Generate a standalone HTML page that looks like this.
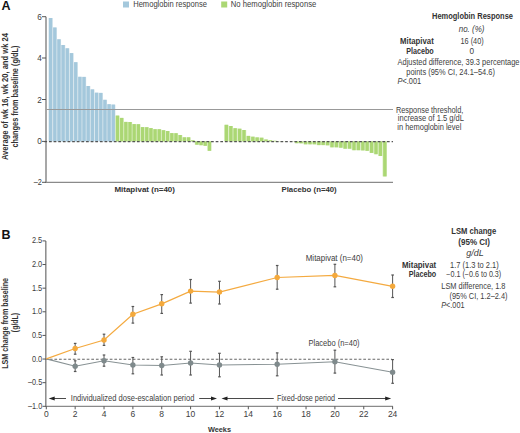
<!DOCTYPE html>
<html><head><meta charset="utf-8"><style>
html,body{margin:0;padding:0;background:#fff;width:520px;height:433px;overflow:hidden}
svg{display:block;font-family:"Liberation Sans", sans-serif}
</style></head><body>
<svg width="520" height="433" viewBox="0 0 520 433">
<rect width="520" height="433" fill="#fff"/>
<text x="1.5" y="9.8" font-size="12.5" font-weight="bold" font-style="normal" text-anchor="start" fill="#111" >A</text>
<rect x="123" y="1.5" width="6" height="6" fill="#a4c8dc"/>
<text x="133.2" y="6.9" font-size="8.2" font-weight="normal" font-style="normal" text-anchor="start" fill="#404040" textLength="73.7" lengthAdjust="spacingAndGlyphs" >Hemoglobin response</text>
<rect x="221.2" y="1.5" width="6" height="6" fill="#abd774"/>
<text x="230.8" y="6.9" font-size="8.2" font-weight="normal" font-style="normal" text-anchor="start" fill="#404040" textLength="85.5" lengthAdjust="spacingAndGlyphs" >No hemoglobin response</text>
<rect x="48.50" y="18.00" width="4.2" height="123.40" fill="#cfe1ea"/>
<rect x="49.00" y="18.00" width="3.2" height="123.40" fill="#a4c8dc"/>
<rect x="52.68" y="27.50" width="4.2" height="113.90" fill="#cfe1ea"/>
<rect x="53.18" y="27.50" width="3.2" height="113.90" fill="#a4c8dc"/>
<rect x="56.86" y="39.30" width="4.2" height="102.10" fill="#cfe1ea"/>
<rect x="57.36" y="39.30" width="3.2" height="102.10" fill="#a4c8dc"/>
<rect x="61.04" y="45.00" width="4.2" height="96.40" fill="#cfe1ea"/>
<rect x="61.54" y="45.00" width="3.2" height="96.40" fill="#a4c8dc"/>
<rect x="65.22" y="48.30" width="4.2" height="93.10" fill="#cfe1ea"/>
<rect x="65.72" y="48.30" width="3.2" height="93.10" fill="#a4c8dc"/>
<rect x="69.40" y="53.10" width="4.2" height="88.30" fill="#cfe1ea"/>
<rect x="69.90" y="53.10" width="3.2" height="88.30" fill="#a4c8dc"/>
<rect x="73.58" y="62.20" width="4.2" height="79.20" fill="#cfe1ea"/>
<rect x="74.08" y="62.20" width="3.2" height="79.20" fill="#a4c8dc"/>
<rect x="77.76" y="76.80" width="4.2" height="64.60" fill="#cfe1ea"/>
<rect x="78.26" y="76.80" width="3.2" height="64.60" fill="#a4c8dc"/>
<rect x="81.94" y="76.90" width="4.2" height="64.50" fill="#cfe1ea"/>
<rect x="82.44" y="76.90" width="3.2" height="64.50" fill="#a4c8dc"/>
<rect x="86.12" y="86.00" width="4.2" height="55.40" fill="#cfe1ea"/>
<rect x="86.62" y="86.00" width="3.2" height="55.40" fill="#a4c8dc"/>
<rect x="90.30" y="89.40" width="4.2" height="52.00" fill="#cfe1ea"/>
<rect x="90.80" y="89.40" width="3.2" height="52.00" fill="#a4c8dc"/>
<rect x="94.48" y="92.70" width="4.2" height="48.70" fill="#cfe1ea"/>
<rect x="94.98" y="92.70" width="3.2" height="48.70" fill="#a4c8dc"/>
<rect x="98.66" y="92.90" width="4.2" height="48.50" fill="#cfe1ea"/>
<rect x="99.16" y="92.90" width="3.2" height="48.50" fill="#a4c8dc"/>
<rect x="102.84" y="99.80" width="4.2" height="41.60" fill="#cfe1ea"/>
<rect x="103.34" y="99.80" width="3.2" height="41.60" fill="#a4c8dc"/>
<rect x="107.02" y="104.20" width="4.2" height="37.20" fill="#cfe1ea"/>
<rect x="107.52" y="104.20" width="3.2" height="37.20" fill="#a4c8dc"/>
<rect x="111.20" y="104.60" width="4.2" height="36.80" fill="#cfe1ea"/>
<rect x="111.70" y="104.60" width="3.2" height="36.80" fill="#a4c8dc"/>
<rect x="115.38" y="115.60" width="4.2" height="25.80" fill="#d3eab5"/>
<rect x="115.88" y="115.60" width="3.2" height="25.80" fill="#abd774"/>
<rect x="119.56" y="117.90" width="4.2" height="23.50" fill="#d3eab5"/>
<rect x="120.06" y="117.90" width="3.2" height="23.50" fill="#abd774"/>
<rect x="123.74" y="121.90" width="4.2" height="19.50" fill="#d3eab5"/>
<rect x="124.24" y="121.90" width="3.2" height="19.50" fill="#abd774"/>
<rect x="127.92" y="122.00" width="4.2" height="19.40" fill="#d3eab5"/>
<rect x="128.42" y="122.00" width="3.2" height="19.40" fill="#abd774"/>
<rect x="132.10" y="124.10" width="4.2" height="17.30" fill="#d3eab5"/>
<rect x="132.60" y="124.10" width="3.2" height="17.30" fill="#abd774"/>
<rect x="136.28" y="124.20" width="4.2" height="17.20" fill="#d3eab5"/>
<rect x="136.78" y="124.20" width="3.2" height="17.20" fill="#abd774"/>
<rect x="140.46" y="127.10" width="4.2" height="14.30" fill="#d3eab5"/>
<rect x="140.96" y="127.10" width="3.2" height="14.30" fill="#abd774"/>
<rect x="144.64" y="127.20" width="4.2" height="14.20" fill="#d3eab5"/>
<rect x="145.14" y="127.20" width="3.2" height="14.20" fill="#abd774"/>
<rect x="148.82" y="128.10" width="4.2" height="13.30" fill="#d3eab5"/>
<rect x="149.32" y="128.10" width="3.2" height="13.30" fill="#abd774"/>
<rect x="153.00" y="129.20" width="4.2" height="12.20" fill="#d3eab5"/>
<rect x="153.50" y="129.20" width="3.2" height="12.20" fill="#abd774"/>
<rect x="157.18" y="129.20" width="4.2" height="12.20" fill="#d3eab5"/>
<rect x="157.68" y="129.20" width="3.2" height="12.20" fill="#abd774"/>
<rect x="161.36" y="130.20" width="4.2" height="11.20" fill="#d3eab5"/>
<rect x="161.86" y="130.20" width="3.2" height="11.20" fill="#abd774"/>
<rect x="165.54" y="131.00" width="4.2" height="10.40" fill="#d3eab5"/>
<rect x="166.04" y="131.00" width="3.2" height="10.40" fill="#abd774"/>
<rect x="169.72" y="133.10" width="4.2" height="8.30" fill="#d3eab5"/>
<rect x="170.22" y="133.10" width="3.2" height="8.30" fill="#abd774"/>
<rect x="173.90" y="133.20" width="4.2" height="8.20" fill="#d3eab5"/>
<rect x="174.40" y="133.20" width="3.2" height="8.20" fill="#abd774"/>
<rect x="178.08" y="135.00" width="4.2" height="6.40" fill="#d3eab5"/>
<rect x="178.58" y="135.00" width="3.2" height="6.40" fill="#abd774"/>
<rect x="182.26" y="137.30" width="4.2" height="4.10" fill="#d3eab5"/>
<rect x="182.76" y="137.30" width="3.2" height="4.10" fill="#abd774"/>
<rect x="186.44" y="137.30" width="4.2" height="4.10" fill="#d3eab5"/>
<rect x="186.94" y="137.30" width="3.2" height="4.10" fill="#abd774"/>
<rect x="190.62" y="140.30" width="4.2" height="1.10" fill="#d3eab5"/>
<rect x="191.12" y="140.30" width="3.2" height="1.10" fill="#abd774"/>
<rect x="194.80" y="141.40" width="4.2" height="3.30" fill="#d3eab5"/>
<rect x="195.30" y="141.40" width="3.2" height="3.30" fill="#abd774"/>
<rect x="198.98" y="141.40" width="4.2" height="3.80" fill="#d3eab5"/>
<rect x="199.48" y="141.40" width="3.2" height="3.80" fill="#abd774"/>
<rect x="203.16" y="141.40" width="4.2" height="4.40" fill="#d3eab5"/>
<rect x="203.66" y="141.40" width="3.2" height="4.40" fill="#abd774"/>
<rect x="207.34" y="141.40" width="4.2" height="9.40" fill="#d3eab5"/>
<rect x="207.84" y="141.40" width="3.2" height="9.40" fill="#abd774"/>
<rect x="224.20" y="124.80" width="4.4" height="16.60" fill="#d3eab5"/>
<rect x="224.80" y="124.80" width="3.2" height="16.60" fill="#abd774"/>
<rect x="228.60" y="126.00" width="4.4" height="15.40" fill="#d3eab5"/>
<rect x="229.20" y="126.00" width="3.2" height="15.40" fill="#abd774"/>
<rect x="233.00" y="128.20" width="4.4" height="13.20" fill="#d3eab5"/>
<rect x="233.60" y="128.20" width="3.2" height="13.20" fill="#abd774"/>
<rect x="237.40" y="128.70" width="4.4" height="12.70" fill="#d3eab5"/>
<rect x="238.00" y="128.70" width="3.2" height="12.70" fill="#abd774"/>
<rect x="241.80" y="130.00" width="4.4" height="11.40" fill="#d3eab5"/>
<rect x="242.40" y="130.00" width="3.2" height="11.40" fill="#abd774"/>
<rect x="246.20" y="135.90" width="4.4" height="5.50" fill="#d3eab5"/>
<rect x="246.80" y="135.90" width="3.2" height="5.50" fill="#abd774"/>
<rect x="250.60" y="136.70" width="4.4" height="4.70" fill="#d3eab5"/>
<rect x="251.20" y="136.70" width="3.2" height="4.70" fill="#abd774"/>
<rect x="255.00" y="137.40" width="4.4" height="4.00" fill="#d3eab5"/>
<rect x="255.60" y="137.40" width="3.2" height="4.00" fill="#abd774"/>
<rect x="259.40" y="137.70" width="4.4" height="3.70" fill="#d3eab5"/>
<rect x="260.00" y="137.70" width="3.2" height="3.70" fill="#abd774"/>
<rect x="263.80" y="139.50" width="4.4" height="1.90" fill="#d3eab5"/>
<rect x="264.40" y="139.50" width="3.2" height="1.90" fill="#abd774"/>
<rect x="268.20" y="140.30" width="4.4" height="1.10" fill="#d3eab5"/>
<rect x="268.80" y="140.30" width="3.2" height="1.10" fill="#abd774"/>
<rect x="272.60" y="140.80" width="4.4" height="0.60" fill="#d3eab5"/>
<rect x="273.20" y="140.80" width="3.2" height="0.60" fill="#abd774"/>
<rect x="277.00" y="141.20" width="4.4" height="0.20" fill="#d3eab5"/>
<rect x="277.60" y="141.20" width="3.2" height="0.20" fill="#abd774"/>
<rect x="281.40" y="141.30" width="4.4" height="0.10" fill="#d3eab5"/>
<rect x="282.00" y="141.30" width="3.2" height="0.10" fill="#abd774"/>
<rect x="285.80" y="141.40" width="4.4" height="0.00" fill="#d3eab5"/>
<rect x="286.40" y="141.40" width="3.2" height="0.00" fill="#abd774"/>
<rect x="290.20" y="141.40" width="4.4" height="0.20" fill="#d3eab5"/>
<rect x="290.80" y="141.40" width="3.2" height="0.20" fill="#abd774"/>
<rect x="294.60" y="141.40" width="4.4" height="1.80" fill="#d3eab5"/>
<rect x="295.20" y="141.40" width="3.2" height="1.80" fill="#abd774"/>
<rect x="299.00" y="141.40" width="4.4" height="1.90" fill="#d3eab5"/>
<rect x="299.60" y="141.40" width="3.2" height="1.90" fill="#abd774"/>
<rect x="303.40" y="141.40" width="4.4" height="2.90" fill="#d3eab5"/>
<rect x="304.00" y="141.40" width="3.2" height="2.90" fill="#abd774"/>
<rect x="307.80" y="141.40" width="4.4" height="2.90" fill="#d3eab5"/>
<rect x="308.40" y="141.40" width="3.2" height="2.90" fill="#abd774"/>
<rect x="312.20" y="141.40" width="4.4" height="2.90" fill="#d3eab5"/>
<rect x="312.80" y="141.40" width="3.2" height="2.90" fill="#abd774"/>
<rect x="316.60" y="141.40" width="4.4" height="3.70" fill="#d3eab5"/>
<rect x="317.20" y="141.40" width="3.2" height="3.70" fill="#abd774"/>
<rect x="321.00" y="141.40" width="4.4" height="3.70" fill="#d3eab5"/>
<rect x="321.60" y="141.40" width="3.2" height="3.70" fill="#abd774"/>
<rect x="325.40" y="141.40" width="4.4" height="3.90" fill="#d3eab5"/>
<rect x="326.00" y="141.40" width="3.2" height="3.90" fill="#abd774"/>
<rect x="329.80" y="141.40" width="4.4" height="5.90" fill="#d3eab5"/>
<rect x="330.40" y="141.40" width="3.2" height="5.90" fill="#abd774"/>
<rect x="334.20" y="141.40" width="4.4" height="5.90" fill="#d3eab5"/>
<rect x="334.80" y="141.40" width="3.2" height="5.90" fill="#abd774"/>
<rect x="338.60" y="141.40" width="4.4" height="6.30" fill="#d3eab5"/>
<rect x="339.20" y="141.40" width="3.2" height="6.30" fill="#abd774"/>
<rect x="343.00" y="141.40" width="4.4" height="7.30" fill="#d3eab5"/>
<rect x="343.60" y="141.40" width="3.2" height="7.30" fill="#abd774"/>
<rect x="347.40" y="141.40" width="4.4" height="7.30" fill="#d3eab5"/>
<rect x="348.00" y="141.40" width="3.2" height="7.30" fill="#abd774"/>
<rect x="351.80" y="141.40" width="4.4" height="8.80" fill="#d3eab5"/>
<rect x="352.40" y="141.40" width="3.2" height="8.80" fill="#abd774"/>
<rect x="356.20" y="141.40" width="4.4" height="8.80" fill="#d3eab5"/>
<rect x="356.80" y="141.40" width="3.2" height="8.80" fill="#abd774"/>
<rect x="360.60" y="141.40" width="4.4" height="9.00" fill="#d3eab5"/>
<rect x="361.20" y="141.40" width="3.2" height="9.00" fill="#abd774"/>
<rect x="365.00" y="141.40" width="4.4" height="9.40" fill="#d3eab5"/>
<rect x="365.60" y="141.40" width="3.2" height="9.40" fill="#abd774"/>
<rect x="369.40" y="141.40" width="4.4" height="11.50" fill="#d3eab5"/>
<rect x="370.00" y="141.40" width="3.2" height="11.50" fill="#abd774"/>
<rect x="373.80" y="141.40" width="4.4" height="12.80" fill="#d3eab5"/>
<rect x="374.40" y="141.40" width="3.2" height="12.80" fill="#abd774"/>
<rect x="378.20" y="141.40" width="4.4" height="14.60" fill="#d3eab5"/>
<rect x="378.80" y="141.40" width="3.2" height="14.60" fill="#abd774"/>
<rect x="382.60" y="141.40" width="4.4" height="35.00" fill="#d3eab5"/>
<rect x="383.20" y="141.40" width="3.2" height="35.00" fill="#abd774"/>
<line x1="46" y1="16.7" x2="46" y2="182.3" stroke="#8a8a8a" stroke-width="1.5" />
<line x1="45.2" y1="182.3" x2="393" y2="182.3" stroke="#8a8a8a" stroke-width="1.2" />
<line x1="42" y1="16.7" x2="46" y2="16.7" stroke="#555" stroke-width="1" />
<text x="41.9" y="19.7" font-size="8.2" font-weight="normal" font-style="normal" text-anchor="end" fill="#404040" >6</text>
<line x1="42" y1="58.0" x2="46" y2="58.0" stroke="#555" stroke-width="1" />
<text x="41.9" y="61.0" font-size="8.2" font-weight="normal" font-style="normal" text-anchor="end" fill="#404040" >4</text>
<line x1="42" y1="99.5" x2="46" y2="99.5" stroke="#555" stroke-width="1" />
<text x="41.9" y="102.5" font-size="8.2" font-weight="normal" font-style="normal" text-anchor="end" fill="#404040" >2</text>
<line x1="42" y1="141.4" x2="46" y2="141.4" stroke="#555" stroke-width="1" />
<text x="41.9" y="144.4" font-size="8.2" font-weight="normal" font-style="normal" text-anchor="end" fill="#404040" >0</text>
<line x1="42" y1="182.3" x2="46" y2="182.3" stroke="#555" stroke-width="1" />
<text x="41.9" y="185.3" font-size="8.2" font-weight="normal" font-style="normal" text-anchor="end" fill="#404040" textLength="8.2" lengthAdjust="spacingAndGlyphs" >–2</text>
<line x1="46.5" y1="109.5" x2="393" y2="109.5" stroke="#999" stroke-width="1" />
<line x1="44.37" y1="141.6" x2="393" y2="141.6" stroke="#555" stroke-width="1.1" stroke-dasharray="2.7 1.93"/>
<g transform="translate(8.1,96.6) rotate(-90)">
<text x="0" y="0" font-size="8.7" font-weight="bold" font-style="normal" text-anchor="middle" fill="#333" textLength="127" lengthAdjust="spacingAndGlyphs" >Average of wk 16, wk 20, and wk 24</text>
<text x="0" y="9.7" font-size="8.7" font-weight="bold" font-style="normal" text-anchor="middle" fill="#333" textLength="101.9" lengthAdjust="spacingAndGlyphs" >changes from baseline (g/dL)</text>
</g>
<text x="114.4" y="192.3" font-size="8.1" font-weight="bold" font-style="normal" text-anchor="start" fill="#333" textLength="60.6" lengthAdjust="spacingAndGlyphs" >Mitapivat (n=40)</text>
<text x="281.5" y="192.4" font-size="8.1" font-weight="bold" font-style="normal" text-anchor="start" fill="#333" textLength="55.2" lengthAdjust="spacingAndGlyphs" >Placebo (n=40)</text>
<text x="432" y="19.3" font-size="8.2" font-weight="bold" font-style="normal" text-anchor="start" fill="#333" textLength="81" lengthAdjust="spacingAndGlyphs" >Hemoglobin Response</text>
<text x="458.75" y="32" font-size="8.2" font-weight="normal" font-style="italic" text-anchor="start" fill="#404040" textLength="25.7" lengthAdjust="spacingAndGlyphs" >no. (%)</text>
<text x="433.75" y="43.75" font-size="8.2" font-weight="bold" font-style="normal" text-anchor="end" fill="#333" textLength="33.75" lengthAdjust="spacingAndGlyphs" >Mitapivat</text>
<text x="460.5" y="43.75" font-size="8.2" font-weight="normal" font-style="normal" text-anchor="start" fill="#404040" textLength="23.2" lengthAdjust="spacingAndGlyphs" >16 (40)</text>
<text x="433.75" y="53.75" font-size="8.2" font-weight="bold" font-style="normal" text-anchor="end" fill="#333" textLength="27.5" lengthAdjust="spacingAndGlyphs" >Placebo</text>
<text x="469.5" y="53.75" font-size="8.2" font-weight="normal" font-style="normal" text-anchor="start" fill="#404040" >0</text>
<text x="397.5" y="65" font-size="8.2" font-weight="normal" font-style="normal" text-anchor="start" fill="#404040" textLength="122" lengthAdjust="spacingAndGlyphs" >Adjusted difference, 39.3 percentage</text>
<text x="406.25" y="75" font-size="8.2" font-weight="normal" font-style="normal" text-anchor="start" fill="#404040" textLength="88.7" lengthAdjust="spacingAndGlyphs" >points (95% CI, 24.1–54.6)</text>
<text x="397.5" y="83.75" font-size="8.2" font-weight="normal" font-style="normal" text-anchor="start" fill="#404040" textLength="23.7" lengthAdjust="spacingAndGlyphs" ><tspan font-style="italic">P</tspan>&lt;.001</text>
<text x="395.9" y="112.5" font-size="8.2" font-weight="normal" font-style="normal" text-anchor="start" fill="#404040" textLength="67.5" lengthAdjust="spacingAndGlyphs" >Response threshold,</text>
<text x="397.8" y="121.1" font-size="8.2" font-weight="normal" font-style="normal" text-anchor="start" fill="#404040" textLength="66.1" lengthAdjust="spacingAndGlyphs" >increase of 1.5 g/dL</text>
<text x="397.3" y="129.8" font-size="8.2" font-weight="normal" font-style="normal" text-anchor="start" fill="#404040" textLength="64" lengthAdjust="spacingAndGlyphs" >in hemoglobin level</text>
<text x="1.5" y="239.2" font-size="12.5" font-weight="bold" font-style="normal" text-anchor="start" fill="#111" >B</text>
<line x1="45.8" y1="240.9" x2="45.8" y2="406.3" stroke="#8a8a8a" stroke-width="1.5" />
<line x1="45.0" y1="406.3" x2="392.9" y2="406.3" stroke="#8a8a8a" stroke-width="1.2" />
<line x1="42.5" y1="240.9" x2="45.8" y2="240.9" stroke="#555" stroke-width="1" />
<text x="42.2" y="243.4" font-size="8.2" font-weight="normal" font-style="normal" text-anchor="end" fill="#404040" textLength="10.3" lengthAdjust="spacingAndGlyphs" >2.5</text>
<line x1="42.5" y1="264.5285714285714" x2="45.8" y2="264.5285714285714" stroke="#555" stroke-width="1" />
<text x="42.2" y="267.0285714285714" font-size="8.2" font-weight="normal" font-style="normal" text-anchor="end" fill="#404040" textLength="10.3" lengthAdjust="spacingAndGlyphs" >2.0</text>
<line x1="42.5" y1="288.15714285714284" x2="45.8" y2="288.15714285714284" stroke="#555" stroke-width="1" />
<text x="42.2" y="290.65714285714284" font-size="8.2" font-weight="normal" font-style="normal" text-anchor="end" fill="#404040" textLength="10.3" lengthAdjust="spacingAndGlyphs" >1.5</text>
<line x1="42.5" y1="311.7857142857143" x2="45.8" y2="311.7857142857143" stroke="#555" stroke-width="1" />
<text x="42.2" y="314.2857142857143" font-size="8.2" font-weight="normal" font-style="normal" text-anchor="end" fill="#404040" textLength="10.3" lengthAdjust="spacingAndGlyphs" >1.0</text>
<line x1="42.5" y1="335.4142857142857" x2="45.8" y2="335.4142857142857" stroke="#555" stroke-width="1" />
<text x="42.2" y="337.9142857142857" font-size="8.2" font-weight="normal" font-style="normal" text-anchor="end" fill="#404040" textLength="10.3" lengthAdjust="spacingAndGlyphs" >0.5</text>
<line x1="42.5" y1="359.04285714285714" x2="45.8" y2="359.04285714285714" stroke="#555" stroke-width="1" />
<text x="42.2" y="361.54285714285714" font-size="8.2" font-weight="normal" font-style="normal" text-anchor="end" fill="#404040" textLength="10.3" lengthAdjust="spacingAndGlyphs" >0.0</text>
<line x1="42.5" y1="382.6714285714286" x2="45.8" y2="382.6714285714286" stroke="#555" stroke-width="1" />
<text x="42.2" y="385.1714285714286" font-size="8.2" font-weight="normal" font-style="normal" text-anchor="end" fill="#404040" textLength="14.2" lengthAdjust="spacingAndGlyphs" >–0.5</text>
<line x1="42.5" y1="406.3" x2="45.8" y2="406.3" stroke="#555" stroke-width="1" />
<text x="42.2" y="408.8" font-size="8.2" font-weight="normal" font-style="normal" text-anchor="end" fill="#404040" textLength="14.2" lengthAdjust="spacingAndGlyphs" >–1.0</text>
<line x1="46.3" y1="406.3" x2="46.3" y2="409.3" stroke="#555" stroke-width="1" />
<text x="46.3" y="417.2" font-size="8.5" font-weight="normal" font-style="normal" text-anchor="middle" fill="#404040" >0</text>
<line x1="75.16" y1="406.3" x2="75.16" y2="409.3" stroke="#555" stroke-width="1" />
<text x="75.16" y="417.2" font-size="8.5" font-weight="normal" font-style="normal" text-anchor="middle" fill="#404040" >2</text>
<line x1="104.02" y1="406.3" x2="104.02" y2="409.3" stroke="#555" stroke-width="1" />
<text x="104.02" y="417.2" font-size="8.5" font-weight="normal" font-style="normal" text-anchor="middle" fill="#404040" >4</text>
<line x1="132.88" y1="406.3" x2="132.88" y2="409.3" stroke="#555" stroke-width="1" />
<text x="132.88" y="417.2" font-size="8.5" font-weight="normal" font-style="normal" text-anchor="middle" fill="#404040" >6</text>
<line x1="161.74" y1="406.3" x2="161.74" y2="409.3" stroke="#555" stroke-width="1" />
<text x="161.74" y="417.2" font-size="8.5" font-weight="normal" font-style="normal" text-anchor="middle" fill="#404040" >8</text>
<line x1="190.60000000000002" y1="406.3" x2="190.60000000000002" y2="409.3" stroke="#555" stroke-width="1" />
<text x="190.60000000000002" y="417.2" font-size="8.5" font-weight="normal" font-style="normal" text-anchor="middle" fill="#404040" >10</text>
<line x1="219.45999999999998" y1="406.3" x2="219.45999999999998" y2="409.3" stroke="#555" stroke-width="1" />
<text x="219.45999999999998" y="417.2" font-size="8.5" font-weight="normal" font-style="normal" text-anchor="middle" fill="#404040" >12</text>
<line x1="248.32" y1="406.3" x2="248.32" y2="409.3" stroke="#555" stroke-width="1" />
<text x="248.32" y="417.2" font-size="8.5" font-weight="normal" font-style="normal" text-anchor="middle" fill="#404040" >14</text>
<line x1="277.18" y1="406.3" x2="277.18" y2="409.3" stroke="#555" stroke-width="1" />
<text x="277.18" y="417.2" font-size="8.5" font-weight="normal" font-style="normal" text-anchor="middle" fill="#404040" >16</text>
<line x1="306.04" y1="406.3" x2="306.04" y2="409.3" stroke="#555" stroke-width="1" />
<text x="306.04" y="417.2" font-size="8.5" font-weight="normal" font-style="normal" text-anchor="middle" fill="#404040" >18</text>
<line x1="334.90000000000003" y1="406.3" x2="334.90000000000003" y2="409.3" stroke="#555" stroke-width="1" />
<text x="334.90000000000003" y="417.2" font-size="8.5" font-weight="normal" font-style="normal" text-anchor="middle" fill="#404040" >20</text>
<line x1="363.76" y1="406.3" x2="363.76" y2="409.3" stroke="#555" stroke-width="1" />
<text x="363.76" y="417.2" font-size="8.5" font-weight="normal" font-style="normal" text-anchor="middle" fill="#404040" >22</text>
<line x1="392.62" y1="406.3" x2="392.62" y2="409.3" stroke="#555" stroke-width="1" />
<text x="392.62" y="417.2" font-size="8.5" font-weight="normal" font-style="normal" text-anchor="middle" fill="#404040" >24</text>
<text x="207.9" y="431.5" font-size="8.1" font-weight="bold" font-style="normal" text-anchor="start" fill="#333" textLength="23.1" lengthAdjust="spacingAndGlyphs" >Weeks</text>
<line x1="45.2" y1="359.2" x2="392" y2="359.2" stroke="#666" stroke-width="1.1" stroke-dasharray="2.7 1.91"/>
<polyline points="46.30,358.9 75.16,366.2 104.02,360.8 132.88,365.0 161.74,365.5 190.60,363.0 219.46,365.0 277.18,364.2 334.90,361.8 392.62,372.3" fill="none" stroke="#889294" stroke-width="1.15"/>
<polyline points="46.30,358.9 75.16,348.5 104.02,340.0 132.88,314.2 161.74,303.8 190.60,291.1 219.46,292.0 277.18,277.5 334.90,275.5 392.62,286.3" fill="none" stroke="#f4aa40" stroke-width="1.25"/>
<line x1="75.16" y1="360.8" x2="75.16" y2="371.5" stroke="#555" stroke-width="1" />
<line x1="73.86" y1="360.8" x2="76.46" y2="360.8" stroke="#555" stroke-width="1.2" />
<line x1="73.86" y1="371.5" x2="76.46" y2="371.5" stroke="#555" stroke-width="1.2" />
<circle cx="75.16" cy="366.2" r="2.7" fill="#7f8a8c"/>
<line x1="104.02" y1="355.0" x2="104.02" y2="366.2" stroke="#555" stroke-width="1" />
<line x1="102.72" y1="355.0" x2="105.32" y2="355.0" stroke="#555" stroke-width="1.2" />
<line x1="102.72" y1="366.2" x2="105.32" y2="366.2" stroke="#555" stroke-width="1.2" />
<circle cx="104.02" cy="360.8" r="2.7" fill="#7f8a8c"/>
<line x1="132.88" y1="357.5" x2="132.88" y2="373.8" stroke="#555" stroke-width="1" />
<line x1="131.57999999999998" y1="357.5" x2="134.18" y2="357.5" stroke="#555" stroke-width="1.2" />
<line x1="131.57999999999998" y1="373.8" x2="134.18" y2="373.8" stroke="#555" stroke-width="1.2" />
<circle cx="132.88" cy="365.0" r="2.7" fill="#7f8a8c"/>
<line x1="161.74" y1="356.8" x2="161.74" y2="375.0" stroke="#555" stroke-width="1" />
<line x1="160.44" y1="356.8" x2="163.04000000000002" y2="356.8" stroke="#555" stroke-width="1.2" />
<line x1="160.44" y1="375.0" x2="163.04000000000002" y2="375.0" stroke="#555" stroke-width="1.2" />
<circle cx="161.74" cy="365.5" r="2.7" fill="#7f8a8c"/>
<line x1="190.60000000000002" y1="351.3" x2="190.60000000000002" y2="375.0" stroke="#555" stroke-width="1" />
<line x1="189.3" y1="351.3" x2="191.90000000000003" y2="351.3" stroke="#555" stroke-width="1.2" />
<line x1="189.3" y1="375.0" x2="191.90000000000003" y2="375.0" stroke="#555" stroke-width="1.2" />
<circle cx="190.60" cy="363.0" r="2.7" fill="#7f8a8c"/>
<line x1="219.45999999999998" y1="353.3" x2="219.45999999999998" y2="376.8" stroke="#555" stroke-width="1" />
<line x1="218.15999999999997" y1="353.3" x2="220.76" y2="353.3" stroke="#555" stroke-width="1.2" />
<line x1="218.15999999999997" y1="376.8" x2="220.76" y2="376.8" stroke="#555" stroke-width="1.2" />
<circle cx="219.46" cy="365.0" r="2.7" fill="#7f8a8c"/>
<line x1="277.18" y1="352.9" x2="277.18" y2="375.8" stroke="#555" stroke-width="1" />
<line x1="275.88" y1="352.9" x2="278.48" y2="352.9" stroke="#555" stroke-width="1.2" />
<line x1="275.88" y1="375.8" x2="278.48" y2="375.8" stroke="#555" stroke-width="1.2" />
<circle cx="277.18" cy="364.2" r="2.7" fill="#7f8a8c"/>
<line x1="334.90000000000003" y1="350.2" x2="334.90000000000003" y2="373.1" stroke="#555" stroke-width="1" />
<line x1="333.6" y1="350.2" x2="336.20000000000005" y2="350.2" stroke="#555" stroke-width="1.2" />
<line x1="333.6" y1="373.1" x2="336.20000000000005" y2="373.1" stroke="#555" stroke-width="1.2" />
<circle cx="334.90" cy="361.8" r="2.7" fill="#7f8a8c"/>
<line x1="392.62" y1="359.6" x2="392.62" y2="383.3" stroke="#555" stroke-width="1" />
<line x1="391.32" y1="359.6" x2="393.92" y2="359.6" stroke="#555" stroke-width="1.2" />
<line x1="391.32" y1="383.3" x2="393.92" y2="383.3" stroke="#555" stroke-width="1.2" />
<circle cx="392.62" cy="372.3" r="2.7" fill="#7f8a8c"/>
<line x1="75.16" y1="343.4" x2="75.16" y2="354.2" stroke="#555" stroke-width="1" />
<line x1="73.86" y1="343.4" x2="76.46" y2="343.4" stroke="#555" stroke-width="1.2" />
<line x1="73.86" y1="354.2" x2="76.46" y2="354.2" stroke="#555" stroke-width="1.2" />
<circle cx="75.16" cy="348.5" r="2.7" fill="#f4a93c"/>
<line x1="104.02" y1="334.2" x2="104.02" y2="345.4" stroke="#555" stroke-width="1" />
<line x1="102.72" y1="334.2" x2="105.32" y2="334.2" stroke="#555" stroke-width="1.2" />
<line x1="102.72" y1="345.4" x2="105.32" y2="345.4" stroke="#555" stroke-width="1.2" />
<circle cx="104.02" cy="340.0" r="2.7" fill="#f4a93c"/>
<line x1="132.88" y1="306.5" x2="132.88" y2="323.1" stroke="#555" stroke-width="1" />
<line x1="131.57999999999998" y1="306.5" x2="134.18" y2="306.5" stroke="#555" stroke-width="1.2" />
<line x1="131.57999999999998" y1="323.1" x2="134.18" y2="323.1" stroke="#555" stroke-width="1.2" />
<circle cx="132.88" cy="314.2" r="2.7" fill="#f4a93c"/>
<line x1="161.74" y1="294.6" x2="161.74" y2="313.4" stroke="#555" stroke-width="1" />
<line x1="160.44" y1="294.6" x2="163.04000000000002" y2="294.6" stroke="#555" stroke-width="1.2" />
<line x1="160.44" y1="313.4" x2="163.04000000000002" y2="313.4" stroke="#555" stroke-width="1.2" />
<circle cx="161.74" cy="303.8" r="2.7" fill="#f4a93c"/>
<line x1="190.60000000000002" y1="279.5" x2="190.60000000000002" y2="303.1" stroke="#555" stroke-width="1" />
<line x1="189.3" y1="279.5" x2="191.90000000000003" y2="279.5" stroke="#555" stroke-width="1.2" />
<line x1="189.3" y1="303.1" x2="191.90000000000003" y2="303.1" stroke="#555" stroke-width="1.2" />
<circle cx="190.60" cy="291.1" r="2.7" fill="#f4a93c"/>
<line x1="219.45999999999998" y1="281.3" x2="219.45999999999998" y2="304.0" stroke="#555" stroke-width="1" />
<line x1="218.15999999999997" y1="281.3" x2="220.76" y2="281.3" stroke="#555" stroke-width="1.2" />
<line x1="218.15999999999997" y1="304.0" x2="220.76" y2="304.0" stroke="#555" stroke-width="1.2" />
<circle cx="219.46" cy="292.0" r="2.7" fill="#f4a93c"/>
<line x1="277.18" y1="265.5" x2="277.18" y2="289.2" stroke="#555" stroke-width="1" />
<line x1="275.88" y1="265.5" x2="278.48" y2="265.5" stroke="#555" stroke-width="1.2" />
<line x1="275.88" y1="289.2" x2="278.48" y2="289.2" stroke="#555" stroke-width="1.2" />
<circle cx="277.18" cy="277.5" r="2.7" fill="#f4a93c"/>
<line x1="334.90000000000003" y1="264.3" x2="334.90000000000003" y2="286.8" stroke="#555" stroke-width="1" />
<line x1="333.6" y1="264.3" x2="336.20000000000005" y2="264.3" stroke="#555" stroke-width="1.2" />
<line x1="333.6" y1="286.8" x2="336.20000000000005" y2="286.8" stroke="#555" stroke-width="1.2" />
<circle cx="334.90" cy="275.5" r="2.7" fill="#f4a93c"/>
<line x1="392.62" y1="275.0" x2="392.62" y2="297.5" stroke="#555" stroke-width="1" />
<line x1="391.32" y1="275.0" x2="393.92" y2="275.0" stroke="#555" stroke-width="1.2" />
<line x1="391.32" y1="297.5" x2="393.92" y2="297.5" stroke="#555" stroke-width="1.2" />
<circle cx="392.62" cy="286.3" r="2.7" fill="#f4a93c"/>
<text x="305.75" y="260.75" font-size="8.2" font-weight="normal" font-style="normal" text-anchor="start" fill="#404040" textLength="57.2" lengthAdjust="spacingAndGlyphs" >Mitapivat (n=40)</text>
<text x="308.5" y="346.2" font-size="8.2" font-weight="normal" font-style="normal" text-anchor="start" fill="#404040" textLength="51.1" lengthAdjust="spacingAndGlyphs" >Placebo (n=40)</text>
<line x1="52.7" y1="398.5" x2="66" y2="398.5" stroke="#4a4a4a" stroke-width="1" />
<polygon points="48.7,398.5 54.7,396.6 54.7,400.4" fill="#222"/>
<text x="70.8" y="400.8" font-size="8.2" font-weight="normal" font-style="normal" text-anchor="start" fill="#404040" textLength="123.6" lengthAdjust="spacingAndGlyphs" >Individualized dose-escalation period</text>
<line x1="199.2" y1="398.5" x2="213.0" y2="398.5" stroke="#4a4a4a" stroke-width="1" />
<polygon points="217.0,398.5 211.0,396.6 211.0,400.4" fill="#222"/>
<line x1="225.5" y1="398.5" x2="273.75" y2="398.5" stroke="#4a4a4a" stroke-width="1" />
<polygon points="221.5,398.5 227.5,396.6 227.5,400.4" fill="#222"/>
<text x="277" y="400.8" font-size="8.2" font-weight="normal" font-style="normal" text-anchor="start" fill="#404040" textLength="58" lengthAdjust="spacingAndGlyphs" >Fixed-dose period</text>
<line x1="338" y1="398.5" x2="387.2" y2="398.5" stroke="#4a4a4a" stroke-width="1" />
<polygon points="391.2,398.5 385.2,396.6 385.2,400.4" fill="#222"/>
<g transform="translate(8.2,323.4) rotate(-90)">
<text x="0" y="0" font-size="8.7" font-weight="bold" font-style="normal" text-anchor="middle" fill="#333" textLength="90.8" lengthAdjust="spacingAndGlyphs" >LSM change from baseline</text>
<text x="0" y="9.5" font-size="8.7" font-weight="bold" font-style="normal" text-anchor="middle" fill="#333" textLength="19.4" lengthAdjust="spacingAndGlyphs" dx="0.9">(g/dL)</text>
</g>
<text x="451.25" y="233.75" font-size="8.2" font-weight="bold" font-style="normal" text-anchor="start" fill="#333" textLength="45" lengthAdjust="spacingAndGlyphs" >LSM change</text>
<text x="458.25" y="244.5" font-size="8.2" font-weight="bold" font-style="normal" text-anchor="start" fill="#333" textLength="31.75" lengthAdjust="spacingAndGlyphs" >(95% CI)</text>
<text x="466.25" y="255.5" font-size="8.2" font-weight="normal" font-style="italic" text-anchor="start" fill="#404040" textLength="17.5" lengthAdjust="spacingAndGlyphs" >g/dL</text>
<text x="436.25" y="267.5" font-size="8.2" font-weight="bold" font-style="normal" text-anchor="end" fill="#333" textLength="34.25" lengthAdjust="spacingAndGlyphs" >Mitapivat</text>
<text x="450" y="267.5" font-size="8.2" font-weight="normal" font-style="normal" text-anchor="start" fill="#404040" textLength="48.75" lengthAdjust="spacingAndGlyphs" >1.7 (1.3 to 2.1)</text>
<text x="436.25" y="277" font-size="8.2" font-weight="bold" font-style="normal" text-anchor="end" fill="#333" textLength="27.5" lengthAdjust="spacingAndGlyphs" >Placebo</text>
<text x="446.25" y="277" font-size="8.2" font-weight="normal" font-style="normal" text-anchor="start" fill="#404040" textLength="55" lengthAdjust="spacingAndGlyphs" >−0.1 (−0.6 to 0.3)</text>
<text x="441.25" y="288.75" font-size="8.2" font-weight="normal" font-style="normal" text-anchor="start" fill="#404040" textLength="64.25" lengthAdjust="spacingAndGlyphs" >LSM difference, 1.8</text>
<text x="449.5" y="298.75" font-size="8.2" font-weight="normal" font-style="normal" text-anchor="start" fill="#404040" textLength="58" lengthAdjust="spacingAndGlyphs" >(95% CI, 1.2–2.4)</text>
<text x="441.25" y="307.5" font-size="8.2" font-weight="normal" font-style="normal" text-anchor="start" fill="#404040" textLength="23.25" lengthAdjust="spacingAndGlyphs" ><tspan font-style="italic">P</tspan>&lt;.001</text>
</svg>
</body></html>
